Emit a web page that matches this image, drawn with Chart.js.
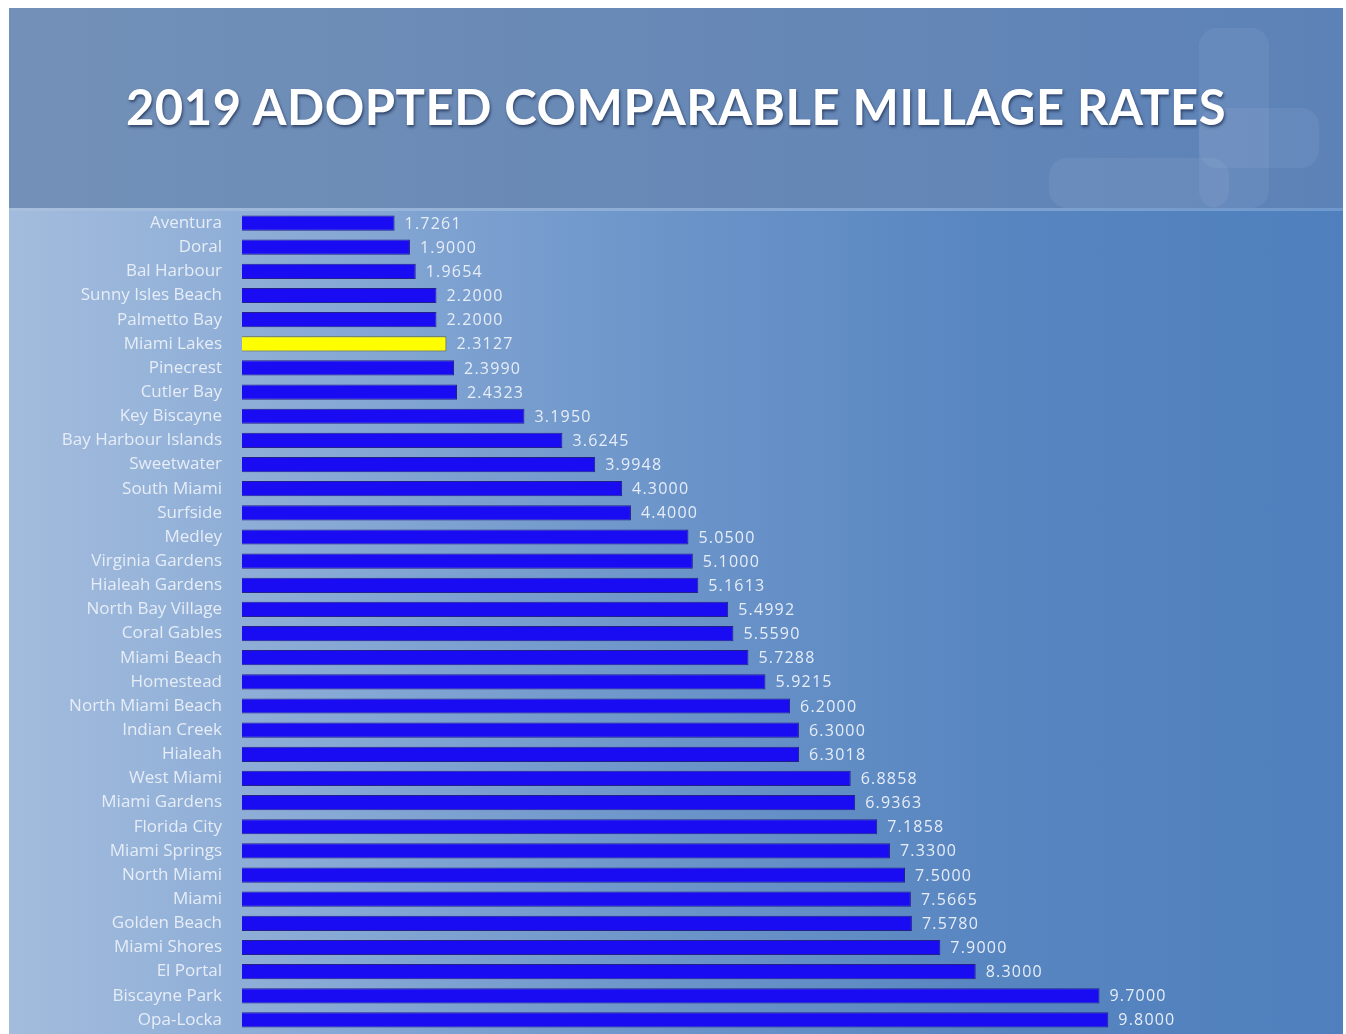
<!DOCTYPE html>
<html>
<head>
<meta charset="utf-8">
<script src="https://cdn.jsdelivr.net/npm/chart.js@4.4.1/dist/chart.umd.min.js"></script>
<style>
  html, body { margin: 0; padding: 0; background: #ffffff; }
  body { width: 1346px; height: 1034px; overflow: hidden; position: relative; }
  .slide { position: absolute; left: 9px; top: 8px; width: 1334px; height: 1026px; overflow: hidden; }
  .header {
    position: absolute; left: 0; top: 0; width: 1334px; height: 200px;
    background: linear-gradient(90deg, #7391b8 0%, #6a8ab6 40%, #5c82b7 100%);
  }
  .header .piece { position: absolute; background: rgba(190, 210, 235, 0.10); border-radius: 18px; }
  .header h1 {
    position: absolute; left: 0; right: 0; top: 69px; margin: 0;
    text-align: center; color: #ffffff;
    font-family: Lato, "Open Sans", sans-serif; font-weight: 700; font-size: 49px;
    letter-spacing: 0.5px;
    text-shadow: 1px 2px 3px rgba(20, 35, 70, 0.7);
  }
  .divider { position: absolute; left: 0; top: 200px; width: 1334px; height: 4px; background: linear-gradient(90deg, #a9c0dd, #6f98cc); }
  .plot {
    position: absolute; left: 0; top: 203px; width: 1334px; height: 823px;
    background: linear-gradient(90deg, #a3bcdd 0%, #86a8d4 25%, #6b94c9 50%, #5785c0 75%, #4f80bd 100%);
  }
  .plot canvas { display: block; }
</style>
</head>
<body>
<div class="slide">
  <div class="header">
    <div class="piece" style="left:1190px; top:20px; width:70px; height:180px;"></div>
    <div class="piece" style="left:1190px; top:100px; width:120px; height:60px;"></div>
    <div class="piece" style="left:1040px; top:150px; width:180px; height:50px;"></div>
    <h1>2019 ADOPTED COMPARABLE MILLAGE RATES</h1>
  </div>
  <div class="divider"></div>
  <div class="plot"><canvas id="millage" width="1334" height="823"></canvas></div>
</div>
<script>
// municipalities, lowest to highest
var cities = ['Aventura', 'Doral', 'Bal Harbour', 'Sunny Isles Beach', 'Palmetto Bay', 'Miami Lakes',
  'Pinecrest', 'Cutler Bay', 'Key Biscayne', 'Bay Harbour Islands', 'Sweetwater', 'South Miami',
  'Surfside', 'Medley', 'Virginia Gardens', 'Hialeah Gardens', 'North Bay Village', 'Coral Gables',
  'Miami Beach', 'Homestead', 'North Miami Beach', 'Indian Creek', 'Hialeah', 'West Miami',
  'Miami Gardens', 'Florida City', 'Miami Springs', 'North Miami', 'Miami', 'Golden Beach',
  'Miami Shores', 'El Portal', 'Biscayne Park', 'Opa-Locka'];

var rates = [1.7261, 1.9000, 1.9654, 2.2000, 2.2000, 2.3127,
  2.3990, 2.4323, 3.1950, 3.6245, 3.9948, 4.3000,
  4.4000, 5.0500, 5.1000, 5.1613, 5.4992, 5.5590,
  5.7288, 5.9215, 6.2000, 6.3000, 6.3018, 6.8858,
  6.9363, 7.1858, 7.3300, 7.5000, 7.5665, 7.5780,
  7.9000, 8.3000, 9.7000, 9.8000];

var highlight = 'Miami Lakes';

var barColors = cities.map(function (c) { return c === highlight ? '#ffff00' : '#1a0cf2'; });
var borderColors = cities.map(function (c) { return c === highlight ? '#6a6a30' : '#24208a'; });

// draws the value next to each bar
var valueLabels = {
  id: 'valueLabels',
  afterDatasetsDraw: function (chart) {
    var ctx = chart.ctx;
    var meta = chart.getDatasetMeta(0);
    ctx.save();
    ctx.font = '16px "Open Sans", sans-serif';
    ctx.letterSpacing = '1.2px';
    ctx.fillStyle = '#e6edf7';
    ctx.textAlign = 'left';
    ctx.textBaseline = 'middle';
    meta.data.forEach(function (bar, i) {
      ctx.fillText(rates[i].toFixed(4), bar.x + 10, bar.y + 1);
    });
    ctx.restore();
  }
};

var ctx = document.getElementById('millage').getContext('2d');
var myChart = new Chart(ctx, {
  type: 'bar',
  data: {
    labels: cities,
    datasets: [{
      label: 'Millage rate',
      data: rates,
      backgroundColor: barColors,
      borderColor: borderColors,
      borderWidth: 1,
      categoryPercentage: 1,
      barPercentage: 0.63
    }]
  },
  options: {
    indexAxis: 'y',
    responsive: false,
    animation: false,
    layout: { padding: { top: 0, right: 217, bottom: 2, left: 0 } },
    plugins: {
      legend: { display: false },
      tooltip: { enabled: false }
    },
    scales: {
      x: { display: false, min: 0, max: 10 },
      y: {
        grid: { display: false, drawTicks: false },
        border: { display: false },
        ticks: {
          color: '#e6edf7',
          padding: 20,
          font: { family: '"Open Sans", sans-serif', size: 17 }
        },
        afterFit: function (scale) {
          scale.width = 233;
          // labels sit inside their bands, no extra room needed above/below
          scale.paddingTop = 0;
          scale.paddingBottom = 0;
        }
      }
    }
  },
  plugins: [valueLabels]
});
</script>
</body>
</html>
